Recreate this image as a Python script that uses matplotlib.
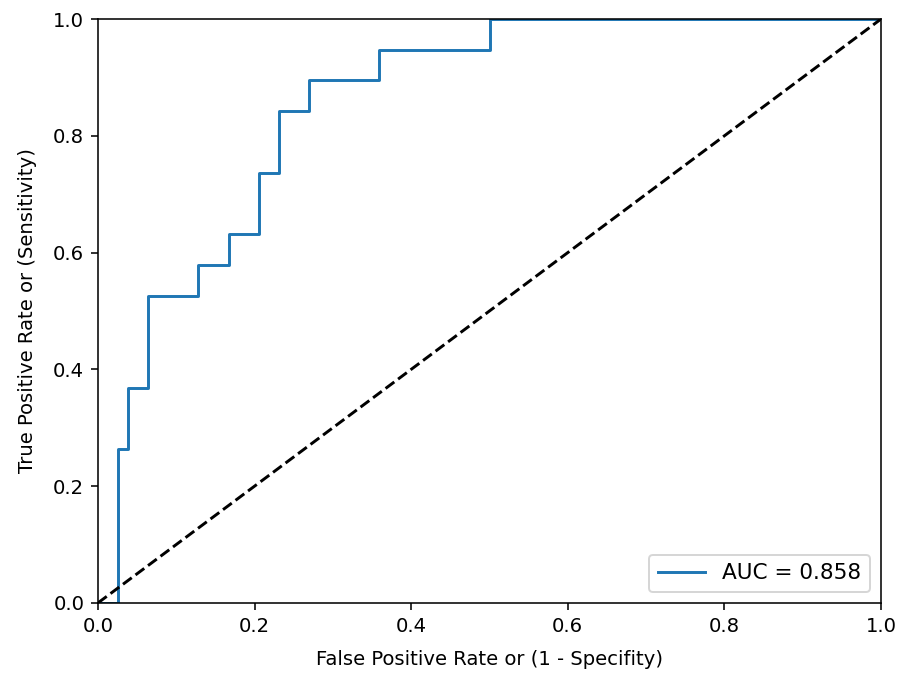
import numpy as np
import matplotlib
matplotlib.use('Agg')
import matplotlib.pyplot as plt

# ROC curve points (78 negatives, 19 positives)
fpr = np.array([0, 2, 2, 3, 3, 5, 5, 10, 10, 13, 13, 16, 16, 18, 18,
                21, 21, 28, 28, 39, 39, 78]) / 78
tpr = np.array([0, 0, 5, 5, 7, 7, 10, 10, 11, 11, 12, 12, 14, 14, 16,
                16, 17, 17, 18, 18, 19, 19]) / 19
auc_label = 'AUC = 0.858'

fig = plt.figure(figsize=(6.4, 4.8), dpi=141.25)
ax = fig.add_axes([98 / 904, 75 / 677, 783 / 904, 583 / 677])

ax.plot(fpr, tpr, label=auc_label)
ax.plot([0, 1], [0, 1], 'k--')
ax.set_xlim(0, 1)
ax.set_ylim(0, 1)
ax.set_xlabel('False Positive Rate or (1 - Specifity)', labelpad=7.5)
ax.set_ylabel('True Positive Rate or (Sensitivity)', labelpad=8)
ax.legend(loc='lower right', fontsize=11, handlelength=2.2)

fig.savefig('out.png', dpi=141.25)
